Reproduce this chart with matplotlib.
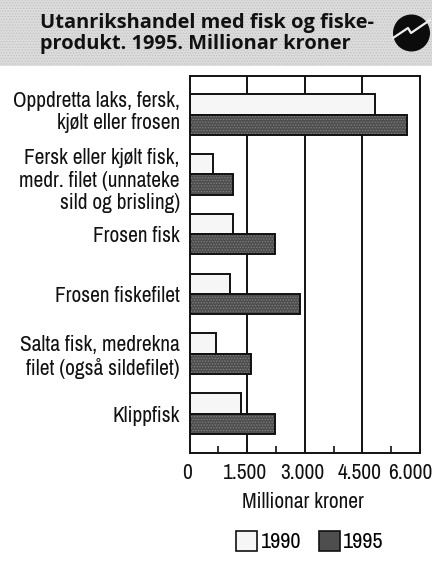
import matplotlib
matplotlib.use("Agg")
import matplotlib.pyplot as plt
from matplotlib.patches import Rectangle, Circle, Patch
from matplotlib.transforms import ScaledTranslation
from matplotlib import font_manager as fm
import numpy as np

categories = ["Oppdretta laks, fersk,\nkjølt eller frosen",
              "Fersk eller kjølt fisk,\nmedr. filet (unnateke\nsild og brisling)",
              "Frosen fisk",
              "Frosen fiskefilet",
              "Salta fisk, medrekna\nfilet (også sildefilet)",
              "Klippfisk"]
v1990 = [4830, 610, 1130, 1060, 690, 1350]
v1995 = [5660, 1120, 2230, 2880, 1600, 2230]
xticks = [0, 1500, 3000, 4500, 6000]
xticklabels = ["0", "1.500", "3.000", "4.500", "6.000"]
minor = [750, 2250, 3750, 5250]
title = "Utanrikshandel med fisk og fiske-\nprodukt. 1995. Millionar kroner"
xlabel = "Millionar kroner"
legend_labels = ["1990", "1995"]

names = {f.name for f in fm.fontManager.ttflist}
narrow = "Archivo Narrow" if "Archivo Narrow" in names else "Liberation Sans"
fs = 15.4 if narrow == "Archivo Narrow" else 13.0

W, H = 432, 563
plt.rcParams["font.family"] = [narrow, "DejaVu Sans"]
plt.rcParams["hatch.linewidth"] = 0.6
fig = plt.figure(figsize=(W/100, H/100), dpi=100, facecolor="white")

def shift(artist, dx, dy):
    artist.set_transform(artist.get_transform() + ScaledTranslation(dx/100, dy/100, fig.dpi_scale_trans))

bg = fig.add_axes([0, 0, 1, 1], zorder=0)
bg.set_xlim(0, W); bg.set_ylim(H, 0); bg.axis("off")
bg.add_patch(Rectangle((0, 0), W, 66, fc="#dcdcdc", ec="#c2c2c2", lw=0, hatch="......"))
bg.text(40, 33.5, title, fontsize=14.4, fontweight="bold", family="Open Sans",
        va="center", ha="left", linespacing=1.1, color="#111111")
bg.add_patch(Circle((411.5, 33), 18.5, fc="#0c0c0c", ec="none"))
bg.plot([393, 408, 411, 430], [38, 28, 33, 20], color="#eeeeee", lw=1.6)

ax = fig.add_axes([189.5/W, 1-453/H, 230.5/W, 377/H], zorder=1)
y = np.arange(len(categories))
bh = 0.34
ax.set_xlim(0, 6000)
ax.set_ylim(5.66, -0.644)
ax.set_axisbelow(True)
for g in xticks[1:-1]:
    ax.axvline(g, color="#111111", lw=1.4, zorder=1)
ax.barh(y - bh/2, v1990, height=bh, color="#f6f6f6", edgecolor="#111111", lw=1.4, zorder=2)
ax.barh(y + bh/2, v1995, height=bh, color="#4e4e4e", edgecolor="#808080", lw=0, hatch="......", zorder=2)
ax.barh(y + bh/2, v1995, height=bh, fill=False, edgecolor="#111111", lw=1.4, zorder=3)
for s in ax.spines.values():
    s.set_linewidth(1.4); s.set_color("#111111")
ax.set_yticks(y)
ax.set_yticklabels(categories, fontsize=fs, ha="right", linespacing=1.15, color="#111111")
ax.tick_params(axis="y", length=0, pad=7)
ax.set_xticks(xticks)
ax.set_xticklabels(xticklabels, fontsize=fs, color="#111111")
ax.set_xticks(minor, minor=True)
ax.tick_params(axis="x", which="major", length=0, pad=7)
ax.tick_params(axis="x", which="minor", direction="in", length=5, width=1.2, color="#111111")
for lab, dx in zip(ax.get_xticklabels(), [-2.5, -2, -2, -3, -10]):
    shift(lab, dx, 0)
ylabs = ax.get_yticklabels()
shift(ylabs[0], 0, 6)
shift(ylabs[1], 0, -3)
bg.text(303, 502, xlabel, fontsize=fs, ha="center", va="center", color="#111111")

handles = [Patch(fc="#f6f6f6", ec="#111111", lw=1.2), Patch(fc="#4e4e4e", ec="#111111", lw=1.2)]
bg.legend(handles, legend_labels, loc="center", bbox_to_anchor=(310/W, 1-541.5/H),
          bbox_transform=fig.transFigure, frameon=False, ncol=2, fontsize=fs+0.6,
          handlelength=0.95, handleheight=1.0, handletextpad=0.15, columnspacing=0.8)
fig.savefig("out.png", dpi=100)
